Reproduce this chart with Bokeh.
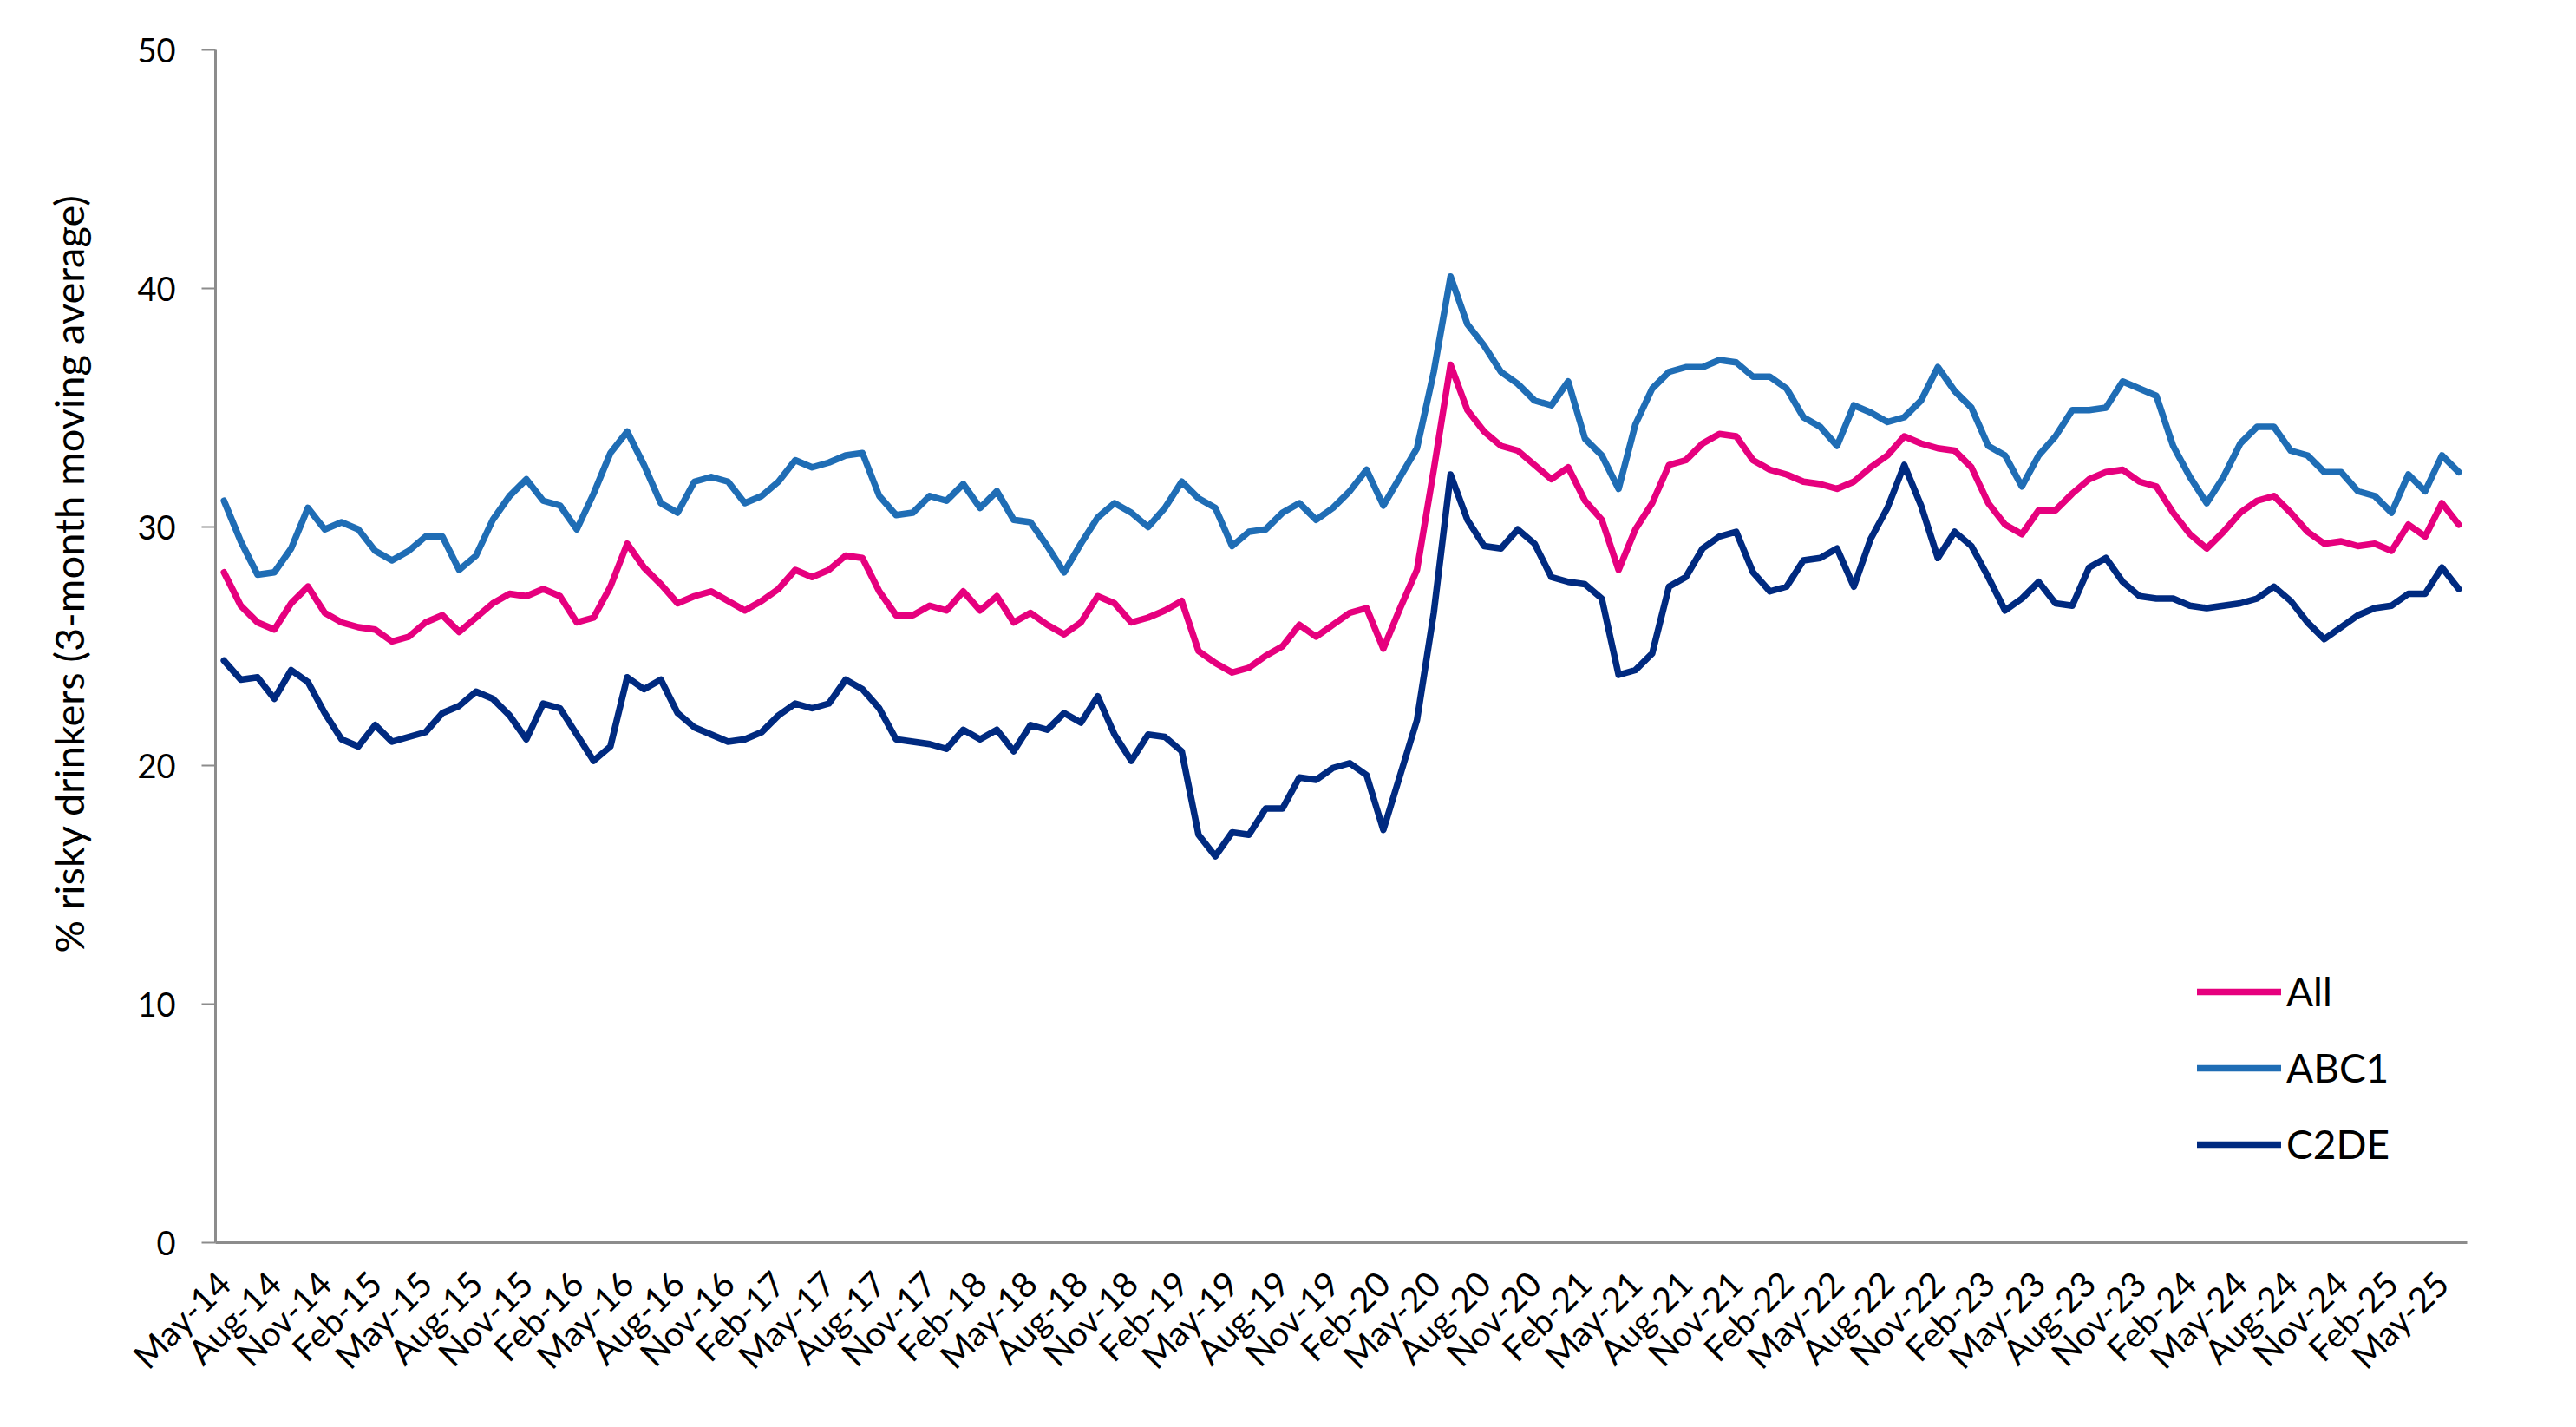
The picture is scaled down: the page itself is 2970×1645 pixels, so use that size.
import math
from bokeh.plotting import figure
from bokeh.models import Range1d, FixedTicker, Legend, LegendItem, ColumnDataSource, Title
from bokeh.embed import file_html
from bokeh.resources import INLINE

# Monthly 3-month moving averages, May-14 .. Jun-25 (134 months)
ALL = [28.1, 26.7, 26.0, 25.7, 26.8, 27.5, 26.4, 26.0, 25.8, 25.7,
       25.2, 25.4, 26.0, 26.3, 25.6, 26.2, 26.8, 27.2, 27.1, 27.4,
       27.1, 26.0, 26.2, 27.5, 29.3, 28.3, 27.6, 26.8, 27.1, 27.3,
       26.9, 26.5, 26.9, 27.4, 28.2, 27.9, 28.2, 28.8, 28.7, 27.3,
       26.3, 26.3, 26.7, 26.5, 27.3, 26.5, 27.1, 26.0, 26.4, 25.9,
       25.5, 26.0, 27.1, 26.8, 26.0, 26.2, 26.5, 26.9, 24.8, 24.3,
       23.9, 24.1, 24.6, 25.0, 25.9, 25.4, 25.9, 26.4, 26.6, 24.9,
       26.6, 28.2, 32.4, 36.8, 34.9, 34.0, 33.4, 33.2, 32.6, 32.0,
       32.5, 31.1, 30.3, 28.2, 29.9, 31.0, 32.6, 32.8, 33.5, 33.9,
       33.8, 32.8, 32.4, 32.2, 31.9, 31.8, 31.6, 31.9, 32.5, 33.0,
       33.8, 33.5, 33.3, 33.2, 32.5, 31.0, 30.1, 29.7, 30.7, 30.7,
       31.4, 32.0, 32.3, 32.4, 31.9, 31.7, 30.6, 29.7, 29.1, 29.8,
       30.6, 31.1, 31.3, 30.6, 29.8, 29.3, 29.4, 29.2, 29.3, 29.0,
       30.1, 29.6, 31.0, 30.1]

ABC1 = [31.1, 29.4, 28.0, 28.1, 29.1, 30.8, 29.9, 30.2, 29.9, 29.0,
        28.6, 29.0, 29.6, 29.6, 28.2, 28.8, 30.3, 31.3, 32.0, 31.1,
        30.9, 29.9, 31.4, 33.1, 34.0, 32.6, 31.0, 30.6, 31.9, 32.1,
        31.9, 31.0, 31.3, 31.9, 32.8, 32.5, 32.7, 33.0, 33.1, 31.3,
        30.5, 30.6, 31.3, 31.1, 31.8, 30.8, 31.5, 30.3, 30.2, 29.2,
        28.1, 29.3, 30.4, 31.0, 30.6, 30.0, 30.8, 31.9, 31.2, 30.8,
        29.2, 29.8, 29.9, 30.6, 31.0, 30.3, 30.8, 31.5, 32.4, 30.9,
        32.1, 33.3, 36.5, 40.5, 38.5, 37.6, 36.5, 36.0, 35.3, 35.1,
        36.1, 33.7, 33.0, 31.6, 34.3, 35.8, 36.5, 36.7, 36.7, 37.0,
        36.9, 36.3, 36.3, 35.8, 34.6, 34.2, 33.4, 35.1, 34.8, 34.4,
        34.6, 35.3, 36.7, 35.7, 35.0, 33.4, 33.0, 31.7, 33.0, 33.8,
        34.9, 34.9, 35.0, 36.1, 35.8, 35.5, 33.4, 32.1, 31.0, 32.1,
        33.5, 34.2, 34.2, 33.2, 33.0, 32.3, 32.3, 31.5, 31.3, 30.6,
        32.2, 31.5, 33.0, 32.3]

C2DE = [24.4, 23.6, 23.7, 22.8, 24.0, 23.5, 22.2, 21.1, 20.8, 21.7,
        21.0, 21.2, 21.4, 22.2, 22.5, 23.1, 22.8, 22.1, 21.1, 22.6,
        22.4, 21.3, 20.2, 20.8, 23.7, 23.2, 23.6, 22.2, 21.6, 21.3,
        21.0, 21.1, 21.4, 22.1, 22.6, 22.4, 22.6, 23.6, 23.2, 22.4,
        21.1, 21.0, 20.9, 20.7, 21.5, 21.1, 21.5, 20.6, 21.7, 21.5,
        22.2, 21.8, 22.9, 21.3, 20.2, 21.3, 21.2, 20.6, 17.1, 16.2,
        17.2, 17.1, 18.2, 18.2, 19.5, 19.4, 19.9, 20.1, 19.6, 17.3,
        19.6, 21.9, 26.4, 32.2, 30.3, 29.2, 29.1, 29.9, 29.3, 27.9,
        27.7, 27.6, 27.0, 23.8, 24.0, 24.7, 27.5, 27.9, 29.1, 29.6,
        29.8, 28.1, 27.3, 27.5, 28.6, 28.7, 29.1, 27.5, 29.5, 30.8,
        32.6, 30.9, 28.7, 29.8, 29.2, 27.9, 26.5, 27.0, 27.7, 26.8,
        26.7, 28.3, 28.7, 27.7, 27.1, 27.0, 27.0, 26.7, 26.6, 26.7,
        26.8, 27.0, 27.5, 26.9, 26.0, 25.3, 25.8, 26.3, 26.6, 26.7,
        27.2, 27.2, 28.3, 27.4]

TICK_LABELS = ["May-14", "Aug-14", "Nov-14",
               "Feb-15", "May-15", "Aug-15", "Nov-15",
               "Feb-16", "May-16", "Aug-16", "Nov-16",
               "Feb-17", "May-17", "Aug-17", "Nov-17",
               "Feb-18", "May-18", "Aug-18", "Nov-18",
               "Feb-19", "May-19", "Aug-19", "Nov-19",
               "Feb-20", "May-20", "Aug-20", "Nov-20",
               "Feb-21", "May-21", "Aug-21", "Nov-21",
               "Feb-22", "May-22", "Aug-22", "Nov-22",
               "Feb-23", "May-23", "Aug-23", "Nov-23",
               "Feb-24", "May-24", "Aug-24", "Nov-24",
               "Feb-25", "May-25"]

SERIES = ["All", "ABC1", "C2DE"]
COLORS = {"All": "#E6007E", "ABC1": "#1F6DB5", "C2DE": "#002A80"}
Y_TITLE = "% risky drinkers (3-month moving average)"

month_idx = list(range(len(ALL)))
tick_pos = [3 * i for i in range(len(TICK_LABELS))]

src = ColumnDataSource(dict(x=month_idx, All=ALL, ABC1=ABC1, C2DE=C2DE))

FONT = "Lato"

p = figure(frame_width=2596, frame_height=1375,
           x_range=Range1d(-0.5, len(ALL) - 0.5), y_range=Range1d(0, 50),
           output_backend="svg", toolbar_location=None,
           min_border_left=248, min_border_top=57,
           min_border_right=110, min_border_bottom=190,
           background_fill_color="white", border_fill_color="white")
p.outline_line_color = None
p.xgrid.visible = False
p.ygrid.visible = False

renderers = {}
for name in ["C2DE", "ABC1", "All"]:
    renderers[name] = p.line("x", name, source=src, line_color=COLORS[name],
                             line_width=7.5, line_join="round", line_cap="round")

# x axis
p.xaxis.ticker = FixedTicker(ticks=tick_pos)
p.xaxis.major_label_overrides = {t: lab for t, lab in zip(tick_pos, TICK_LABELS)}
p.xaxis.major_label_orientation = math.pi / 4
p.xaxis.major_tick_out = 0
p.xaxis.major_tick_in = 0
p.xaxis.minor_tick_out = 0
p.xaxis.minor_tick_in = 0
p.xaxis.major_label_standoff = 40
p.xaxis.major_label_text_font = FONT
p.xaxis.major_label_text_font_size = "40px"
p.xaxis.major_label_text_color = "black"
p.xaxis.axis_line_color = "#8C8C8C"
p.xaxis.axis_line_width = 3

# y axis
p.yaxis.ticker = FixedTicker(ticks=[0, 10, 20, 30, 40, 50])
p.yaxis.major_tick_out = 16
p.yaxis.major_tick_in = 0
p.yaxis.minor_tick_out = 0
p.yaxis.minor_tick_in = 0
p.yaxis.major_tick_line_color = "#8C8C8C"
p.yaxis.major_tick_line_width = 2
p.yaxis.axis_line_color = "#8C8C8C"
p.yaxis.axis_line_width = 3
p.yaxis.major_label_standoff = 30
p.yaxis.major_label_text_font = FONT
p.yaxis.major_label_text_font_size = "38px"
p.yaxis.major_label_text_color = "black"

# y-axis title, lifted above the frame centre as in the original
ytitle = Title(text=Y_TITLE, align="left", vertical_align="top",
               offset=334, standoff=94, text_font=FONT, text_font_size="47px",
               text_font_style="normal", text_color="black")
p.add_layout(ytitle, "left")

legend = Legend(items=[LegendItem(label=n, renderers=[renderers[n]]) for n in SERIES],
                location=(2285, 86))
legend.border_line_color = None
legend.background_fill_alpha = 0
legend.padding = 0
legend.margin = 0
legend.spacing = 33
legend.glyph_width = 97
legend.glyph_height = 44
legend.label_height = 44
legend.label_standoff = 6
legend.label_text_font = FONT
legend.label_text_font_size = "46px"
legend.label_text_color = "black"
p.add_layout(legend, "center")

open("out.html", "w").write(file_html(p, INLINE))
